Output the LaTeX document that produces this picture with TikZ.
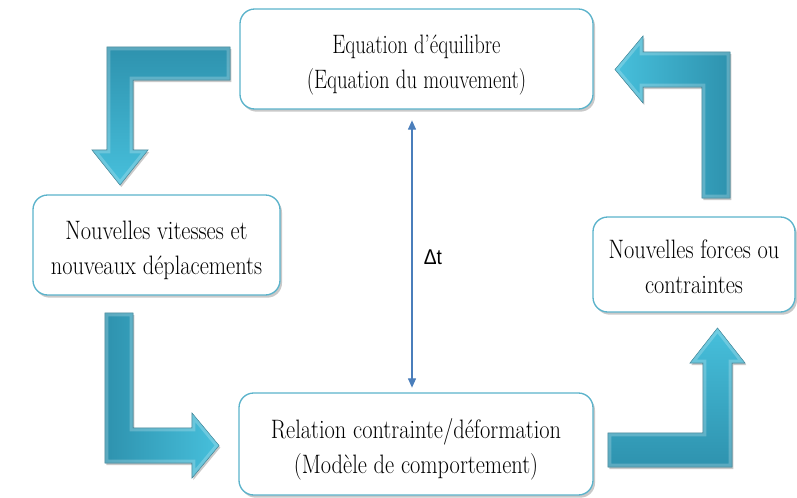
\documentclass[tikz,border=0pt]{standalone}
\usepackage{fontspec}
\newfontfamily\dtfont{Liberation Sans}
\usetikzlibrary{shadows,arrows.meta,calc}
\definecolor{boxline}{HTML}{5BB3CB}
\definecolor{adark}{HTML}{2E92AE}
\definecolor{alight}{HTML}{47C0DC}
\definecolor{dtblue}{HTML}{4A7EBB}
\tikzset{
 box/.style={draw=boxline, line width=1pt, rounded corners=11pt, fill=white,
   drop shadow={shadow xshift=1.5pt, shadow yshift=-2pt, opacity=0.3, fill=black!70},
   align=center, inner sep=0pt},
 bent/.style={draw=adark!80!black, line width=0.4pt,
   drop shadow={shadow xshift=1pt, shadow yshift=-1.5pt, opacity=0.3, fill=black!70}},
 dtarrow/.style={dtblue, line width=0.9pt, {Triangle[length=7pt,width=6pt]}-{Triangle[length=7pt,width=6pt]}},
}
\newcommand{\lbl}[2][0.84]{\raisebox{-3.6pt}[\height][\depth]{\scalebox{#1}[1]{\fontsize{20}{26}\selectfont\begin{tabular}{@{}c@{}}#2\end{tabular}}}}
\newcommand{\bentarrow}[2]{%
  \path[bent,#1] #2;
  \begin{scope}\clip #2; \draw[white, opacity=0.22, line width=5pt, line join=miter] #2; \end{scope}}
\begin{document}
\begin{tikzpicture}[x=0.75pt, y=-0.75pt]
\useasboundingbox (0,0) rectangle (797,497);
% bent arrows
\bentarrow{top color=adark, bottom color=alight}{(230,47) -- (107,47) -- (107,150) -- (92,150) -- (120,185) -- (148,150) -- (133,150) -- (133,80) -- (230,80) -- cycle}
\bentarrow{left color=adark, right color=alight}{(105,313) -- (133,313) -- (133,428) -- (192,428) -- (192,413) -- (219,445.5) -- (192,478) -- (192,463) -- (105,463) -- cycle}
\bentarrow{bottom color=adark, top color=alight}{(608,433) -- (703,433) -- (703,363) -- (690,363) -- (717.5,328) -- (745,363) -- (732,363) -- (732,467) -- (608,467) -- cycle}
\bentarrow{right color=adark, left color=alight}{(730,198) -- (702,198) -- (702,87) -- (643,87) -- (643,103) -- (615,69.5) -- (643,36) -- (643,52) -- (730,52) -- cycle}
% boxes
\node (top) [box, minimum width=264.75pt, minimum height=75pt] at (416.5,59)
  {\lbl[0.775]{Equation d’équilibre\\(Equation du mouvement)}};
\node (left) [box, minimum width=185.25pt, minimum height=75pt] at (156.5,245)
  {\lbl{Nouvelles vitesses et\\nouveaux déplacements}};
\node (right) [box, minimum width=151.5pt, minimum height=71.25pt] at (694,264.5)
  {\lbl{Nouvelles forces ou\\contraintes}};
\node (bot) [box, minimum width=265.5pt, minimum height=76.5pt] at (416,444)
  {\lbl{Relation contrainte/déformation\\(Modèle de comportement)}};
% delta t
\coordinate (dtx) at (412,0);
\draw[dtarrow, shorten <=8pt, shorten >=3.5pt] (top.south -| dtx) -- (bot.north -| dtx);
\node (dt) at (433,257) {\dtfont\fontsize{16}{18}\selectfont\scalebox{0.9}[1]{Δt}};
\end{tikzpicture}
\end{document}
